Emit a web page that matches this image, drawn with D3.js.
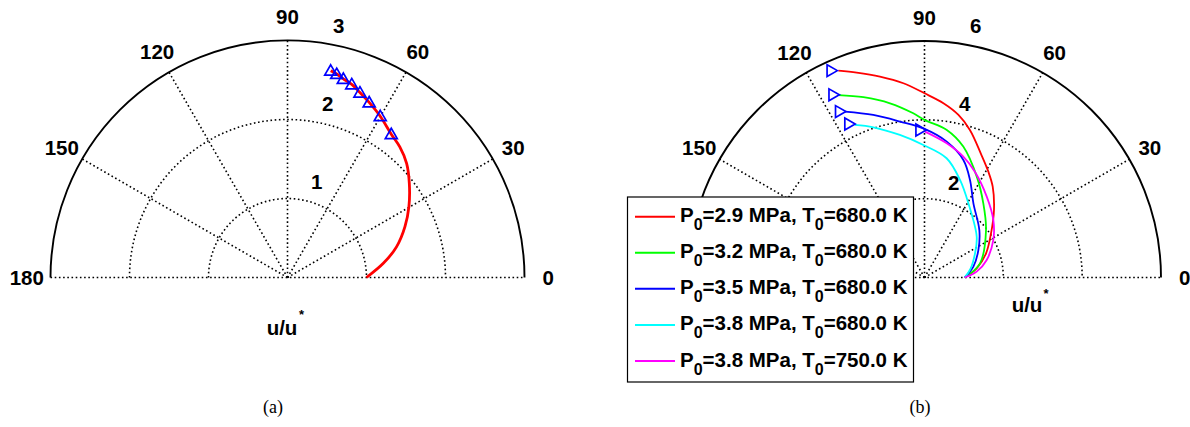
<!DOCTYPE html>
<html><head><meta charset="utf-8">
<script src="https://cdn.jsdelivr.net/npm/d3@7"></script>
<style>
html,body{margin:0;padding:0;background:#fff;}
text{font-family:"Liberation Sans",Arial,Helvetica,sans-serif;font-weight:bold;}
</style></head>
<body>
<svg id="chart" width="1190" height="427"></svg>
<script>
// ---------- DATA ----------
// angle tick labels (degrees)
const angleTicks = [0, 30, 60, 90, 120, 150, 180];
// chart (a)
const ringsA = [1, 2, 3];
const curveA_theta = [0, 8.4, 15.8, 23.4, 30.3, 37.7, 43.8, 49.3, 54.1, 60.1, 65.0, 68.6, 71.6, 74.3, 76.4, 78.2];
const curveA_r     = [1.0, 1.226, 1.436, 1.62, 1.78, 1.949, 2.089, 2.18, 2.24, 2.355, 2.446, 2.514, 2.577, 2.611, 2.65, 2.674];
const markA_theta  = [54.1, 60.1, 65.0, 68.6, 71.6, 74.3, 76.4, 78.2];
const markA_r      = [2.24, 2.355, 2.446, 2.514, 2.577, 2.611, 2.65, 2.674];
// chart (b)
const ringsB = [2, 4, 6];
const seriesNames = ["P0=2.9 MPa, T0=680.0 K", "P0=3.2 MPa, T0=680.0 K", "P0=3.5 MPa, T0=680.0 K", "P0=3.8 MPa, T0=680.0 K", "P0=3.8 MPa, T0=750.0 K"];
const seriesColors = ["#ff0000", "#00ff00", "#0000ff", "#00ffff", "#ff00ff"];
const red_theta = [0, 10, 21.4, 33.6, 44.2, 53.1, 59, 65.3, 72.9, 78.2, 83.8, 90, 96.2, 102.5, 108.3, 112.6];
const red_r     = [1.02, 1.344, 1.677, 2.026, 2.459, 2.882, 3.14, 3.44, 3.917, 4.213, 4.446, 4.674, 4.957, 5.221, 5.477, 5.687];
const green_theta = [0, 14.3, 37.5, 51.6, 62.6, 73.5, 81.4, 90, 93.9, 101.2, 108.7, 115.3];
const green_r     = [1.02, 1.454, 1.967, 2.402, 2.882, 3.464, 3.786, 4.0, 4.176, 4.506, 4.829, 5.12];
const blue_theta = [0, 12.5, 27, 40.7, 56.6, 65, 71.7, 80.7, 90, 98.9, 107.5, 115.6];
const blue_r     = [1.02, 1.27, 1.534, 1.836, 2.254, 2.731, 3.141, 3.493, 3.77, 4.004, 4.324, 4.668];
const cyan_theta = [0, 11.2, 25.6, 38, 59.4, 70, 79.5, 90.5, 99.8, 108.8, 114.5];
const cyan_r     = [1.02, 1.195, 1.421, 1.681, 2.187, 2.634, 3.077, 3.363, 3.67, 4.026, 4.254];
const magenta_theta = [0, 6.4, 15.7, 28.6, 39.9, 52.4, 64.5, 72.2, 80.6, 89.8];
const magenta_r     = [1.02, 1.332, 1.639, 1.989, 2.276, 2.588, 2.97, 3.221, 3.451, 3.7];
const markB_theta = [114.2, 116.5, 117.0, 116.1, 91.6];
const markB_r     = [5.754, 5.178, 4.724, 4.338, 3.745];

// ---------- DRAW ----------
const svg = d3.select("#chart");
svg.append("rect").attr("width",1190).attr("height",427).attr("fill","#fff");
const toRad = t => (90 - t) * Math.PI / 180;
const zip = (th, r) => th.map((t,i)=>({t:t, r:r[i]}));
const FS = 20.5;

function polarFrame(cx, cy, R, rings) {
  const g = svg.append("g").attr("transform",`translate(${cx},${cy})`);
  const rmax = rings[rings.length-1];
  const rs = d3.scaleLinear().domain([0, rmax]).range([0, R]);
  const grid = g.append("g");
  const dot = s => s.attr("fill","none").attr("stroke","#000").attr("stroke-width",1.6).attr("stroke-dasharray","1.6,2.6");
  rings.slice(0,-1).forEach(rv=>{
    const p = d3.path(); p.arc(0,0,rs(rv),Math.PI,2*Math.PI);
    dot(grid.append("path").attr("d",p.toString()));
  });
  [30,60,90,120,150].forEach(a=>{
    const [x,y] = d3.pointRadial(toRad(a), R);
    dot(grid.append("line").attr("x1",0).attr("y1",0).attr("x2",x).attr("y2",y));
  });
  dot(grid.append("line").attr("x1",-R).attr("y1",0).attr("x2",R).attr("y2",0));
  const po = d3.path(); po.arc(0,0,R,Math.PI,2*Math.PI);
  grid.append("path").attr("d",po.toString()).attr("fill","none").attr("stroke","#000").attr("stroke-width",1.9);
  angleTicks.forEach(a=>{
    const [x,y] = d3.pointRadial(toRad(a), R*1.1);
    g.append("text").attr("x",x).attr("y",y).attr("text-anchor","middle")
      .attr("dominant-baseline","central").attr("font-size",FS).text(a);
  });
  const rinc = rings[0];
  rings.forEach(rv=>{
    const [x,y] = d3.pointRadial(toRad(82), rs(rv + rinc/20));
    g.append("text").attr("x",x+12).attr("y",y-6).attr("font-size",FS).text(rv);
  });
  return {g, rs};
}

const line = rs => d3.lineRadial().angle(d=>toRad(d.t)).radius(d=>rs(d.r)).curve(d3.curveCatmullRom.alpha(0.5));
const tri = d3.symbol().type(d3.symbolTriangle).size(62);

// (a)
const A = polarFrame(287.5, 277.5, 237, ringsA);
A.g.append("path").datum(zip(curveA_theta, curveA_r)).attr("d", line(A.rs))
  .attr("fill","none").attr("stroke","#ff0000").attr("stroke-width",2.8);
A.g.selectAll(".ma").data(zip(markA_theta, markA_r)).enter().append("path")
  .attr("d", tri).attr("transform", d=>{const [x,y]=d3.pointRadial(toRad(d.t),A.rs(d.r)); return `translate(${x},${y+1})`;})
  .attr("fill","none").attr("stroke","#0000ff").attr("stroke-width",1.7);
svg.append("text").attr("x",282).attr("y",335).attr("text-anchor","middle").attr("font-size",FS).text("u/u");
svg.append("text").attr("x",301.5).attr("y",319).attr("text-anchor","middle").attr("font-size",13).text("*");

// (b)
const B = polarFrame(924.5, 277.5, 236.5, ringsB);
const seriesB = [zip(red_theta,red_r), zip(green_theta,green_r), zip(blue_theta,blue_r), zip(cyan_theta,cyan_r), zip(magenta_theta,magenta_r)];
seriesB.forEach((s,i)=>{
  B.g.append("path").datum(s).attr("d", line(B.rs)).attr("fill","none")
    .attr("stroke",seriesColors[i]).attr("stroke-width",1.8);
});
B.g.selectAll(".mb").data(zip(markB_theta, markB_r)).enter().append("path")
  .attr("d", tri).attr("transform", d=>{const [x,y]=d3.pointRadial(toRad(d.t),B.rs(d.r)); return `translate(${x-1},${y}) rotate(90)`;})
  .attr("fill","none").attr("stroke","#0000ff").attr("stroke-width",1.7);
svg.append("text").attr("x",1027).attr("y",312).attr("text-anchor","middle").attr("font-size",FS).text("u/u");
svg.append("text").attr("x",1046).attr("y",298).attr("text-anchor","middle").attr("font-size",13).text("*");

// legend
const lg = svg.append("g");
lg.append("rect").attr("x",627.5).attr("y",197).attr("width",286).attr("height",185)
  .attr("fill","#fff").attr("stroke","#000").attr("stroke-width",1.2);
const rowY = d3.scaleLinear().domain([0,4]).range([216.7, 361]);
seriesNames.forEach((nm,i)=>{
  const y = rowY(i);
  lg.append("line").attr("x1",635).attr("x2",675).attr("y1",y).attr("y2",y).attr("stroke",seriesColors[i]).attr("stroke-width",2);
  const m = nm.match(/^P0=(.*?), T0=(.*)$/);
  const t = lg.append("text").attr("x",680).attr("y",y+5.5).attr("font-size",FS);
  t.append("tspan").text("P");
  t.append("tspan").attr("font-size",16).attr("dy",8).text("0");
  t.append("tspan").attr("dy",-8).text("=" + m[1] + ", T");
  t.append("tspan").attr("font-size",16).attr("dy",8).text("0");
  t.append("tspan").attr("dy",-8).text("=" + m[2]);
});

// captions
svg.append("text").attr("x",273).attr("y",413).attr("text-anchor","middle")
  .style("font-family","'Liberation Serif','Times New Roman',serif").style("font-weight","normal").attr("font-size",18).text("(a)");
svg.append("text").attr("x",920).attr("y",413).attr("text-anchor","middle")
  .style("font-family","'Liberation Serif','Times New Roman',serif").style("font-weight","normal").attr("font-size",18).text("(b)");
</script>
</body></html>
